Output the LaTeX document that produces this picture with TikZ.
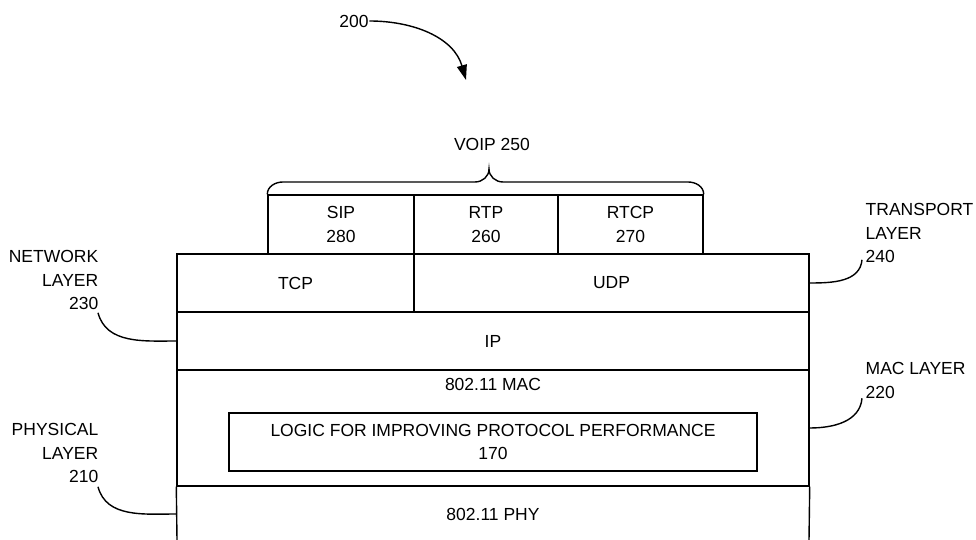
\documentclass[tikz,border=0pt]{standalone}
\usepackage{fontspec}
\setmainfont{Liberation Sans}
\usetikzlibrary{arrows.meta}
\begin{document}
\begin{tikzpicture}[x=1pt,y=1pt,line width=1.4pt,
		every node/.style={font=\fontsize{17.5}{23.5}\selectfont,inner sep=0pt},
		cell/.style={draw,minimum height=58pt,align=center},
		tag/.style={align=left}]
			\useasboundingbox (0,0) rectangle (976,540);
			\node (fig) at (354,519) {200};
			\coordinate (figtip) at (466,460);
			\draw[-{Triangle[length=15pt,width=10pt]}] (fig.east) to[out=0,in=106] (figtip);
			\node (voip) at (492,396) {VOIP 250};
			\node[cell,minimum width=146pt,minimum height=59pt] (sip) at (341,315.5) {SIP\\280};
			\node[cell,minimum width=144pt,minimum height=59pt] (rtp) at (486,315.5) {RTP\\260};
			\node[cell,minimum width=145pt,minimum height=59pt] (rtcp) at (630.5,315.5) {RTCP\\270};
			\draw (sip.north west) to[out=90,in=180] (283,358) -- (475,358) to[out=0,in=-90] (489,371)
				to[out=-90,in=180] (503,358) -- (688,358) to[out=0,in=90] (rtcp.north east);
			\node[cell,minimum width=237pt] (tcp) at (295.5,257) {TCP};
			\node[cell,minimum width=395pt] (udp) at (611.5,257) {UDP};
			\node[cell,minimum width=632pt] (ip) at (493,199) {IP};
			\node[cell,minimum width=632pt,minimum height=116pt] (mac) at (493,112) {};
			\node (mactext) at (493,156) {802.11 MAC};
			\node[cell,minimum width=528pt] (logic) at (493,98) {LOGIC FOR IMPROVING PROTOCOL PERFORMANCE\\170};
			\node (phy) at (493,26) {802.11 PHY};
			\coordinate (phyl) at (177,0);
			\coordinate (phyr) at (809,0);
			\draw (mac.south west) -- (phyl);
			\draw (mac.south east) -- (phyr);
			\node[align=right,anchor=north east] (net) at (99,290) {NETWORK\\LAYER\\230};
			\node[align=right,anchor=north east] (phys) at (99,117) {PHYSICAL\\LAYER\\210};
			\node[tag,anchor=north west] (trans) at (865,337) {TRANSPORT\\LAYER\\240};
			\node[tag,anchor=north west] (maclayer) at (865,178) {MAC LAYER\\220};
			\draw ([shift={(-1,-2)}]net.south east) to[out=-75,in=180] (ip.west);
			\draw ([shift={(-1,-3)}]phys.south east) to[out=-75,in=180] (mac.south west |- phy.center);
			\draw ([shift={(-3,4)}]trans.south west) to[out=-95,in=0] (udp.east);
			\draw ([shift={(-3,1)}]maclayer.south west) to[out=-95,in=0] (mac.east);
		\end{tikzpicture}
\end{document}
